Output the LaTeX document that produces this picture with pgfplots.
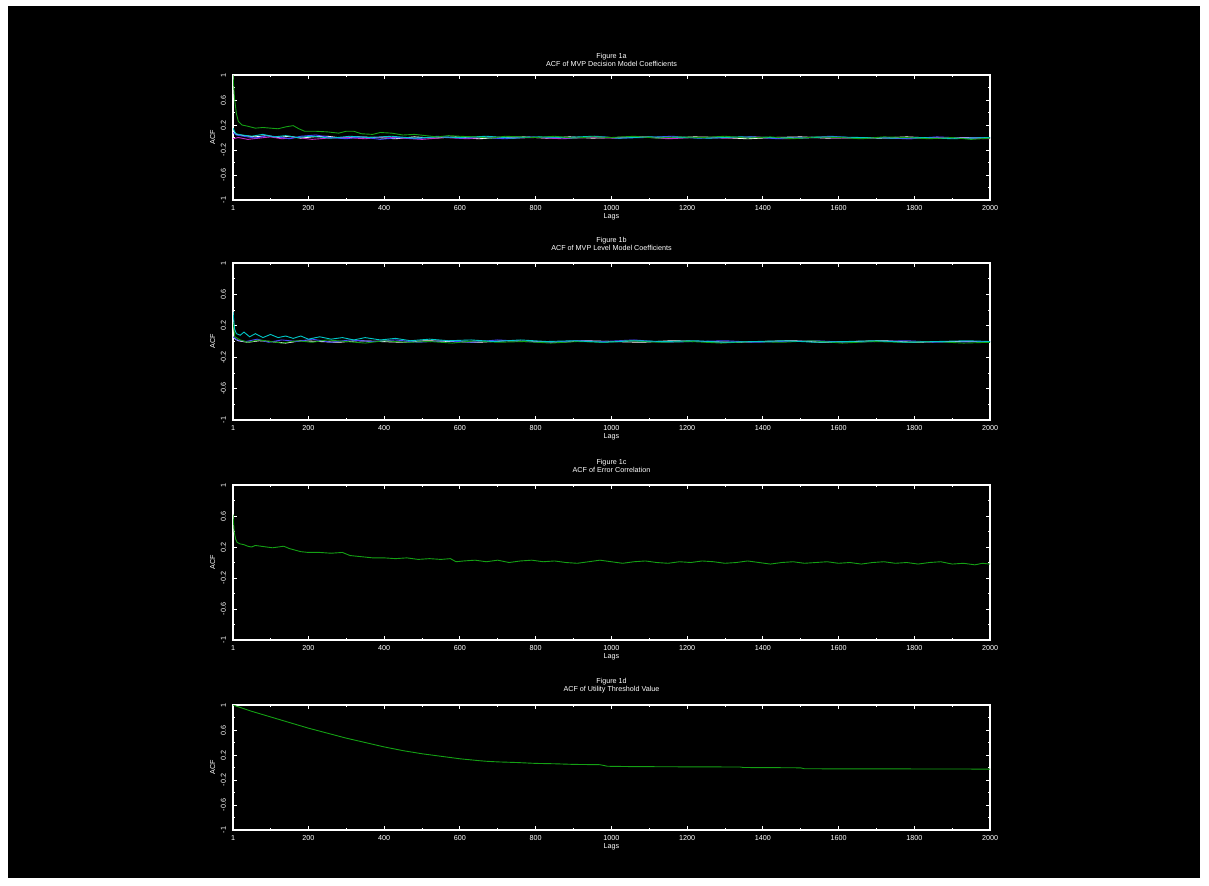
\documentclass[border=0pt]{standalone}
\usepackage{fontspec}
\setmainfont{Liberation Sans}
\usepackage{pgfplots}
\pgfplotsset{compat=1.18}
\definecolor{acfgreen}{RGB}{20,160,20}
\definecolor{acfblue}{RGB}{70,70,255}
\definecolor{acfmag}{RGB}{200,40,200}
\definecolor{acfcyan}{RGB}{0,200,200}
\newcommand{\tinyfont}{\fontsize{3.6}{4.2}\selectfont}
\pgfplotsset{acf/.style={
  scale only axis, width=378.5pt, anchor=north west,
  xmin=1, xmax=2000, ymin=-1, ymax=1,
  xtick={1,200,400,600,800,1000,1200,1400,1600,1800,2000},
  minor xtick={100,300,500,700,900,1100,1300,1500,1700,1900},
  ytick={-1,-0.6,-0.2,0.2,0.6,1},
  minor ytick={-0.8,-0.4,0,0.4,0.8},
  axis line style={white, line width=1pt},
  every tick/.style={white, line width=0.4pt},
  major tick length=2pt, minor tick length=1.2pt,
  tick label style={white, font=\tinyfont},
  yticklabel style={rotate=90},
  xticklabel style={yshift=1pt},
  /pgf/number format/assume math mode=true,
  /pgf/number format/1000 sep={},
  xlabel={Lags}, ylabel={ACF},
  label style={white, font=\tinyfont},
  xlabel style={yshift=5pt}, ylabel style={yshift=-4pt},
  title style={white, font=\tinyfont, align=center, yshift=-3.5pt},
  every axis plot/.append style={line width=0.45pt, mark=none},
}}
\begin{document}
\begin{tikzpicture}
\fill[white] (0,0) rectangle (604.5pt,-442.5pt);
\fill[black] (4pt,-3pt) rectangle (600pt,-439pt);

\begin{axis}[acf, at={(116.5pt,-37.5pt)}, height=62.5pt,
  title={Figure 1a\\ACF of MVP Decision Model Coefficients}, title style={yshift=-2pt}]
\addplot[white] coordinates {(1,0.10) (10,0.05) (30,0.03) (60,0.01) (90,0.03) (120,0.0) (150,0.02) (180,-0.01) (210,0.01) (250,0.02) (290,-0.01) (330,0.01) (380,0.0) (430,-0.02) (480,0.01) (530,-0.01) (590,0.01) (650,-0.02) (710,0.0) (770,0.01) (830,-0.01) (890,0.01) (950,-0.01) (1010,0.0) (1080,0.01) (1150,-0.01) (1220,0.01) (1290,0.0) (1360,-0.02) (1430,0.0) (1500,0.01) (1570,-0.01) (1640,0.0) (1710,-0.01) (1780,0.01) (1850,-0.01) (1920,0.0) (2000,-0.01)};
\addplot[acfmag] coordinates {(1,-0.02) (15,0.0) (40,-0.03) (70,-0.01) (100,0.01) (130,-0.02) (170,0.0) (210,-0.03) (250,-0.01) (300,0.0) (350,-0.02) (400,0.01) (450,-0.01) (500,-0.03) (560,0.0) (620,-0.02) (680,0.01) (740,-0.01) (800,0.0) (870,-0.02) (940,0.0) (1010,-0.01) (1080,0.01) (1150,-0.02) (1220,0.0) (1300,-0.01) (1380,0.01) (1460,-0.02) (1540,0.0) (1620,-0.01) (1700,0.0) (1780,-0.02) (1860,0.0) (1940,-0.01) (2000,-0.02)};
\addplot[acfblue] coordinates {(1,0.08) (10,0.04) (30,0.02) (60,-0.01) (90,0.03) (120,0.01) (150,-0.02) (180,0.02) (220,0.04) (260,0.0) (300,-0.02) (340,0.01) (390,-0.03) (440,0.0) (490,-0.02) (540,0.02) (600,-0.01) (660,0.0) (720,-0.02) (780,0.01) (840,0.0) (900,-0.01) (960,0.02) (1020,-0.01) (1090,0.0) (1160,0.02) (1230,-0.01) (1300,0.0) (1370,0.01) (1440,-0.02) (1510,0.0) (1580,0.02) (1650,-0.01) (1720,0.0) (1790,-0.02) (1860,0.01) (1930,-0.01) (2000,0.0)};
\addplot[acfcyan] coordinates {(1,0.15) (8,0.06) (25,0.04) (50,0.02) (80,0.05) (110,0.01) (140,0.03) (170,0.0) (210,0.02) (260,-0.01) (310,0.02) (360,0.0) (420,0.02) (480,-0.01) (540,0.01) (600,0.0) (670,0.02) (740,-0.01) (810,0.01) (880,0.0) (950,0.02) (1020,-0.01) (1100,0.01) (1180,0.0) (1260,-0.01) (1340,0.01) (1420,0.0) (1500,-0.01) (1580,0.01) (1660,0.0) (1740,-0.01) (1820,0.0) (1900,-0.02) (2000,0.0)};
\addplot[acfgreen] coordinates {(1,1.0) (5,0.62) (10,0.38) (15,0.26) (25,0.20) (40,0.18) (60,0.15) (80,0.16) (100,0.15) (120,0.14) (140,0.17) (160,0.19) (175,0.14) (190,0.10) (220,0.10) (250,0.09) (280,0.07) (300,0.10) (320,0.10) (340,0.06) (370,0.05) (390,0.08) (420,0.07) (450,0.04) (480,0.05) (510,0.03) (540,0.01) (570,0.03) (600,0.02) (640,0.01) (680,-0.01) (720,0.02) (760,0.01) (800,0.0) (850,0.02) (900,-0.01) (950,0.01) (1000,0.0) (1060,0.02) (1120,-0.01) (1180,0.01) (1240,0.0) (1300,0.02) (1360,-0.01) (1420,0.01) (1480,-0.02) (1540,0.01) (1600,0.0) (1660,-0.02) (1720,0.01) (1780,0.0) (1840,-0.02) (1900,0.0) (1950,-0.03) (2000,-0.01)};
\end{axis}

\begin{axis}[acf, at={(116.5pt,-131.5pt)}, height=78.5pt,
  title={Figure 1b\\ACF of MVP Level Model Coefficients}]
\addplot[white] coordinates {(1,0.05) (15,0.01) (40,-0.01) (70,0.01) (100,0.0) (140,-0.02) (180,0.01) (230,0.0) (280,-0.01) (330,0.01) (390,0.0) (450,-0.01) (510,0.01) (580,0.0) (650,-0.01) (720,0.01) (790,0.0) (860,-0.01) (930,0.01) (1000,0.0) (1080,-0.01) (1160,0.01) (1240,0.0) (1320,-0.01) (1400,0.0) (1480,0.01) (1560,-0.01) (1640,0.0) (1720,0.01) (1800,-0.01) (1880,0.0) (2000,0.0)};
\addplot[acfblue] coordinates {(1,0.06) (12,0.02) (35,0.0) (65,0.03) (95,-0.01) (130,0.02) (170,0.0) (210,0.03) (260,-0.01) (310,0.02) (370,0.0) (430,0.02) (490,-0.01) (560,0.01) (630,-0.01) (700,0.02) (770,0.0) (840,-0.01) (910,0.01) (980,0.0) (1060,0.02) (1140,-0.01) (1220,0.0) (1300,0.01) (1380,-0.01) (1460,0.0) (1540,0.01) (1620,-0.01) (1700,0.0) (1780,0.01) (1860,-0.01) (2000,0.0)};
\addplot[acfgreen] coordinates {(1,0.25) (6,0.06) (20,0.02) (40,-0.01) (70,0.02) (100,0.0) (130,-0.02) (170,0.01) (210,-0.01) (250,0.02) (300,0.0) (350,-0.02) (400,0.01) (460,-0.01) (520,0.0) (580,-0.02) (640,0.01) (700,-0.01) (770,0.0) (840,-0.02) (910,0.0) (980,-0.01) (1050,0.01) (1130,-0.01) (1210,0.0) (1290,-0.02) (1370,0.0) (1450,-0.01) (1530,0.01) (1610,-0.02) (1690,0.0) (1770,-0.01) (1850,0.0) (1930,-0.02) (2000,-0.01)};
\addplot[acfcyan] coordinates {(1,0.38) (5,0.16) (10,0.10) (20,0.08) (30,0.12) (45,0.06) (60,0.10) (80,0.05) (100,0.09) (120,0.05) (140,0.07) (160,0.04) (180,0.07) (200,0.03) (230,0.06) (260,0.03) (290,0.05) (320,0.02) (350,0.05) (390,0.02) (430,0.04) (470,0.01) (520,0.03) (570,0.01) (630,0.02) (690,0.0) (760,0.02) (830,0.0) (900,0.01) (980,-0.01) (1060,0.01) (1140,0.0) (1220,0.01) (1300,-0.01) (1380,0.0) (1460,0.01) (1540,-0.01) (1620,0.0) (1700,0.01) (1780,-0.01) (1860,0.0) (1940,0.01) (2000,0.0)};
\end{axis}

\begin{axis}[acf, at={(116.5pt,-242.5pt)}, height=77.5pt,
  title={Figure 1c\\ACF of Error Correlation}]
\addplot[acfgreen] coordinates {(1,0.62) (4,0.40) (8,0.30) (12,0.26) (20,0.24) (30,0.23) (40,0.21) (50,0.20) (60,0.22) (75,0.21) (90,0.20) (105,0.19) (120,0.20) (135,0.21) (150,0.18) (165,0.16) (180,0.14) (200,0.13) (230,0.13) (260,0.12) (290,0.13) (310,0.09) (330,0.08) (350,0.07) (370,0.06) (400,0.06) (430,0.05) (460,0.06) (490,0.04) (520,0.05) (550,0.04) (575,0.05) (590,0.01) (610,0.02) (640,0.03) (670,0.01) (700,0.03) (730,0.0) (760,0.02) (790,0.03) (820,0.01) (850,0.02) (880,0.0) (910,-0.01) (940,0.01) (970,0.03) (1000,0.01) (1030,-0.01) (1060,0.01) (1090,0.02) (1120,0.0) (1150,-0.01) (1180,0.01) (1210,0.0) (1240,0.02) (1270,0.01) (1300,-0.01) (1330,0.0) (1360,0.02) (1390,0.0) (1420,-0.02) (1450,0.0) (1480,0.01) (1510,-0.01) (1540,0.0) (1570,0.01) (1600,-0.01) (1630,0.0) (1660,-0.02) (1690,0.0) (1720,0.01) (1750,-0.01) (1780,0.0) (1810,-0.02) (1840,0.0) (1870,0.01) (1900,-0.02) (1930,-0.01) (1960,-0.03) (1980,-0.01) (2000,-0.02)};
\end{axis}

\begin{axis}[acf, at={(116.5pt,-352.5pt)}, height=62.5pt,
  title={Figure 1d\\ACF of Utility Threshold Value}]
\addplot[acfgreen] coordinates {(1,1.0) (50,0.90) (100,0.81) (150,0.72) (200,0.63) (250,0.55) (300,0.47) (350,0.40) (400,0.33) (450,0.27) (500,0.22) (550,0.18) (600,0.14) (650,0.11) (670,0.10) (700,0.09) (750,0.08) (800,0.066) (850,0.06) (900,0.05) (970,0.045) (990,0.02) (1050,0.015) (1150,0.012) (1250,0.01) (1340,0.008) (1350,0.0) (1450,-0.003) (1500,-0.005) (1510,-0.02) (1600,-0.021) (1700,-0.022) (1800,-0.023) (1900,-0.024) (2000,-0.025)};
\end{axis}
\end{tikzpicture}
\end{document}
